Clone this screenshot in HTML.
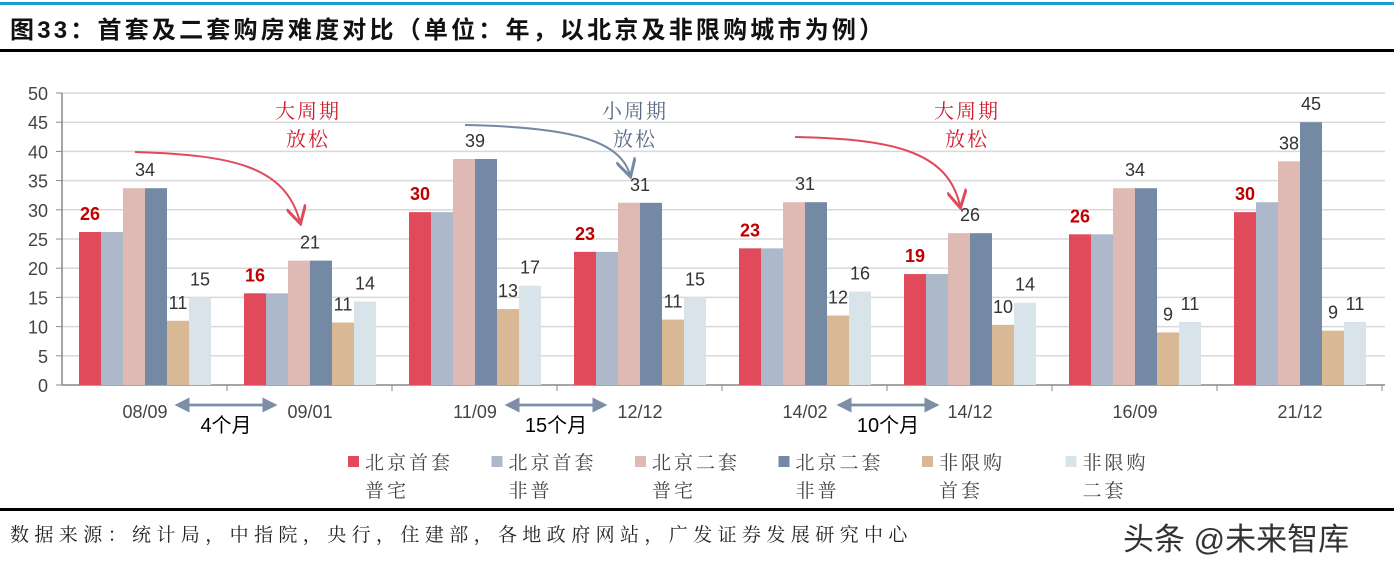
<!DOCTYPE html>
<html><head><meta charset="utf-8"><style>
body{margin:0;width:1394px;height:577px;background:#fff;overflow:hidden;font-family:"Liberation Sans","Noto Sans CJK SC",sans-serif}
</style></head><body>
<svg width="1394" height="577" xmlns="http://www.w3.org/2000/svg">
<defs>
<marker id="ar" markerWidth="10" markerHeight="10" refX="8" refY="5" orient="auto"><path d="M0,0 L9,5 L0,10" fill="none" stroke="#e04a5a" stroke-width="1.5"/></marker>
<marker id="ab" markerWidth="10" markerHeight="10" refX="8" refY="5" orient="auto"><path d="M0,0 L9,5 L0,10" fill="none" stroke="#7489a3" stroke-width="1.5"/></marker>
<marker id="ag" markerWidth="6" markerHeight="6" refX="5" refY="3" orient="auto"><path d="M0,0 L6,3 L0,6Z" fill="#7d8ea6"/></marker>
</defs>
<rect x="0" y="2" width="1394" height="3" fill="#1a9ad6"/>
<text x="10" y="38" font-size="24" font-weight="bold" fill="#111" letter-spacing="3.2">图33：首套及二套购房难度对比（单位：年，以北京及非限购城市为例）</text>
<rect x="0" y="49" width="1394" height="3" fill="#000"/>
<g id="grid"></g><g id="bars"></g><g id="labels"></g>
<g font-family="Noto Serif CJK SC,serif" font-size="20" text-anchor="middle" letter-spacing="2">
<text x="308" y="118" fill="#d01c2c">大周期</text><text x="308" y="146" fill="#d01c2c">放松</text>
<text x="635" y="118" fill="#5a6a85">小周期</text><text x="635" y="146" fill="#5a6a85">放松</text>
<text x="967" y="118" fill="#d01c2c">大周期</text><text x="967" y="146" fill="#d01c2c">放松</text>
<path d="M135,152 C230,155 285,165 300,222" fill="none" stroke="#e04a5a" stroke-width="2" marker-end="url(#ar)"/>
<path d="M465,125 C570,127 620,140 630,175" fill="none" stroke="#7489a3" stroke-width="2" marker-end="url(#ab)"/>
<path d="M795,137 C890,139 948,150 960,206" fill="none" stroke="#e04a5a" stroke-width="2" marker-end="url(#ar)"/>
</g>
<g stroke="#7d8ea6" stroke-width="2.5">
<line x1="178" y1="405" x2="275" y2="405" marker-end="url(#ag)"/>
<line x1="178" y1="405" x2="275" y2="405" transform="rotate(180 226 405)" marker-end="url(#ag)"/>
<line x1="508" y1="405" x2="605" y2="405" marker-end="url(#ag)"/>
<line x1="508" y1="405" x2="605" y2="405" transform="rotate(180 556 405)" marker-end="url(#ag)"/>
<line x1="840" y1="405" x2="937" y2="405" marker-end="url(#ag)"/>
<line x1="840" y1="405" x2="937" y2="405" transform="rotate(180 888 405)" marker-end="url(#ag)"/>
</g>
<g font-size="20" text-anchor="middle" fill="#000">
<text x="226" y="432">4个月</text><text x="556" y="432">15个月</text><text x="888" y="432">10个月</text>
</g>
<g id="legend" font-family="Noto Serif CJK SC,serif" font-size="19" fill="#444" letter-spacing="3"></g>
<rect x="0" y="508" width="1394" height="3" fill="#000"/>
<text x="10" y="541" font-size="19" font-family="Noto Serif CJK SC,serif" fill="#222" letter-spacing="5.4">数据来源：统计局，中指院，央行，住建部，各地政府网站，广发证券发展研究中心</text>
<text x="1123" y="550" font-size="31" fill="#333">头条 @未来智库</text>
</svg>
<script>
const categories=["08/09","09/01","11/09","12/12","14/02","14/12","16/09","21/12"];
const bjFirstStd=[26.2,15.7,29.6,22.8,23.4,19,25.8,29.6];
const bjFirstNon=[26.2,15.7,29.6,22.8,23.4,19,25.8,31.3];
const bjSecondStd=[33.7,21.3,38.7,31.2,31.3,26,33.7,38.3];
const bjSecondNon=[33.7,21.3,38.7,31.2,31.3,26,33.7,45];
const nlFirst=[11,10.7,13,11.2,11.9,10.3,9,9.3];
const nlSecond=[15,14.3,17,15,16,14.1,10.8,10.8];
const redLabels=["26","16","30","23","23","19","26","30"];
const pinkLabels=["34","21","39","31","31","26","34","38"];
const tanLabels=["11","11","13","11","12","10","9","9"];
const paleLabels=["15","14","17","15","16","14","11","11"];
const yTicks=[0,5,10,15,20,25,30,35,40,45,50];
const seriesNames=["北京首套|普宅","北京首套|非普","北京二套|普宅","北京二套|非普","非限购|首套","非限购|二套"];
const colors=["#e04a5a","#adb9ca","#dfbab4","#7489a3","#d9b896","#d8e4ea"];
const series=[bjFirstStd,bjFirstNon,bjSecondStd,bjSecondNon,nlFirst,nlSecond];
const NS="http://www.w3.org/2000/svg";
const x0=62,catW=165,y0=385,yMax=50,plotH=292,bw=22;
const y=v=>y0-v/yMax*plotH;
const xc=i=>x0+i*catW;
function mk(t,a,p,txt){const e=document.createElementNS(NS,t);for(const k in a)e.setAttribute(k,a[k]);if(txt!=null)e.textContent=txt;p.appendChild(e);return e;}
const G=document.getElementById('grid'),B=document.getElementById('bars'),L=document.getElementById('labels'),LG=document.getElementById('legend');
yTicks.forEach(t=>{
 if(t>0){const g=mk('line',{x1:x0,x2:1385,y1:y(t),y2:y(t),stroke:'#d9d9d9','stroke-width':1.5},G);
 
 }
 const tl=mk('text',{x:x0-14,y:y(t)+7,'font-size':18,'text-anchor':'end',fill:'#444'},G,t);
 
 
 mk('line',{x1:x0-6,x2:x0,y1:y(t),y2:y(t),stroke:'#888'},G);
});
mk('line',{x1:x0,x2:x0,y1:y(50),y2:y0,stroke:'#888','stroke-width':1.5},G);
mk('line',{x1:x0,x2:1385,y1:y0,y2:y0,stroke:'#888','stroke-width':1.5},G);
categories.forEach((c,i)=>{
 mk('line',{x1:xc(i+1),x2:xc(i+1),y1:y0,y2:y0+6,stroke:'#888'},G);
 const cl=mk('text',{x:xc(i)+83,y:y0+33,'font-size':18,'text-anchor':'middle',fill:'#444'},G,c);
 
 
 series.forEach((s,j)=>{
  const r=mk('rect',{x:xc(i)+17+j*bw,y:y(s[i]),width:bw,height:y0-y(s[i]),fill:colors[j]},B);
  
  
 });
 const bx=j=>xc(i)+17+j*bw+bw/2;
 const lr=mk('text',{x:bx(0),y:y(bjFirstStd[i])-12,'font-size':18,'font-weight':'bold','text-anchor':'middle',fill:'#c00000'},L,redLabels[i]);
 
 
 const px=i==7?bx(2):(bx(2)+bx(3))/2;
 const lp=mk('text',{x:px,y:y(bjSecondStd[i])-12,'font-size':18,'text-anchor':'middle',fill:'#333'},L,pinkLabels[i]);
 
 
 if(i==7){const l4=mk('text',{x:bx(3),y:y(bjSecondNon[i])-12,'font-size':18,'text-anchor':'middle',fill:'#333'},L,"45");
  
  }
 const lt=mk('text',{x:bx(4),y:y(nlFirst[i])-12,'font-size':18,'text-anchor':'middle',fill:'#333'},L,tanLabels[i]);
 
 
 const lq=mk('text',{x:bx(5),y:y(nlSecond[i])-12,'font-size':18,'text-anchor':'middle',fill:'#333'},L,paleLabels[i]);
 
 
});
seriesNames.forEach((n,j)=>{
 const lx=348+j*143.5;
 const g=mk('g',{},LG);
 
 
 mk('rect',{x:lx,y:456,width:11,height:11,fill:colors[j]},g);
 const p=n.split('|');
 mk('text',{x:lx+17,y:469},g,p[0]);
 mk('text',{x:lx+17,y:497},g,p[1]);
});
</script>
</body></html>
